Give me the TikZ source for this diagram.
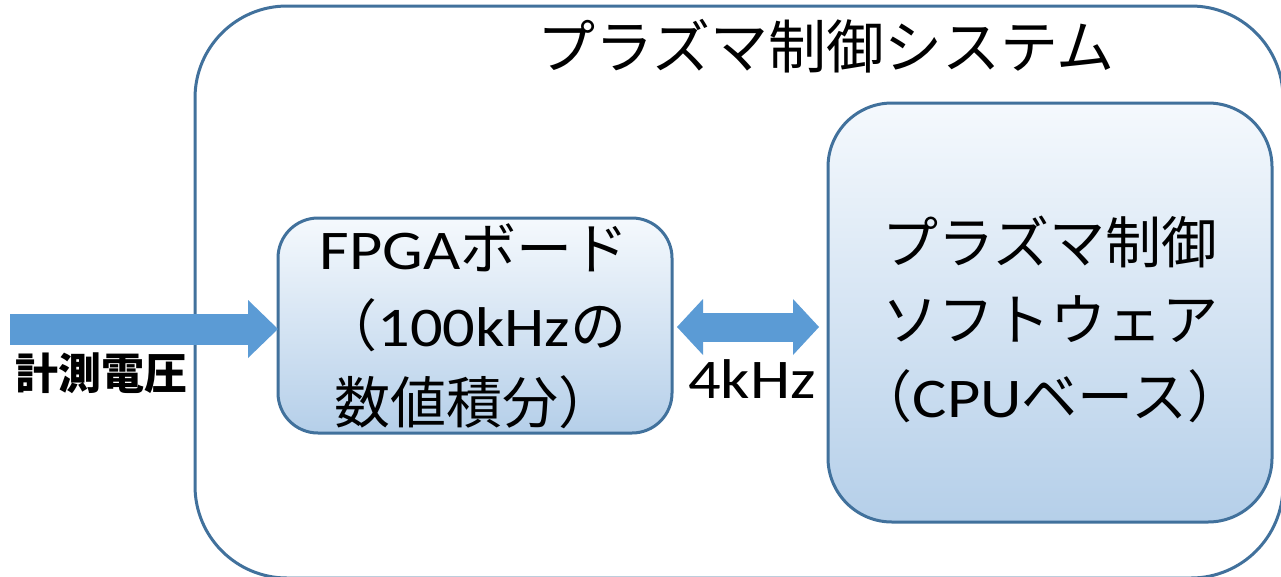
\documentclass[tikz,border=0pt]{standalone}
\usepackage{fontspec}
\newfontfamily\cjk{Noto Sans CJK JP}
\newfontfamily\latn[FakeStretch=1.15]{Carlito}
\newcommand\latx[1]{{\latn #1}}
\usetikzlibrary{arrows.meta}
\definecolor{bord}{HTML}{41719C}
\definecolor{arr}{HTML}{5B9BD5}
\definecolor{gtop}{HTML}{F5F9FD}
\definecolor{gbot}{HTML}{B5CFE9}
\tikzset{
  box/.style={draw=bord, line width=3pt, top color=gtop, bottom color=gbot, outer sep=0pt, inner sep=0pt},
  frame/.style={draw=bord, line width=3pt, outer sep=0pt, inner sep=0pt},
  txt/.style={align=center, font={\cjk\fontsize{56}{77}\selectfont}, inner sep=0pt},
  bigarrow/.style={draw=arr, line width=31pt, -{Triangle[length=30pt,width=58pt,line width=0pt]}},
  dblarrow/.style={draw=arr, line width=29pt, {Triangle[length=26pt,width=56pt,line width=0pt]}-{Triangle[length=26pt,width=56pt,line width=0pt]}},
}
\begin{document}
\begin{tikzpicture}[x=1pt,y=-1pt]
\useasboundingbox (0,0) rectangle (1281,576);
\clip (0,0) rectangle (1281,576);
\fill[white] (0,0) rectangle (1281,576);
% outer system frame
\node[frame, rounded corners=92pt, minimum width=1088pt, minimum height=572pt] (sys) at (739,292) {};
\node[txt, font={\cjk\fontsize{58}{70}\selectfont}] (title) at (826,46) {プラズマ制御システム};
% FPGA board
\node[box, rounded corners=40pt, minimum width=394pt, minimum height=215pt] (fpga) at (475,325.5) {};
\node[txt] (fpgat) at (474,326) {\latx{FPGA}ボード\\（\latx{100kHz}の\\数値積分）};
% software box
\node[box, rounded corners=64pt, minimum width=444pt, minimum height=419pt] (sw) at (1050,312.5) {};
\node[txt] (swt) at (1050,319) {プラズマ制御\\ソフトウェア\\（\latx{CPU}ベース）};
% input arrow
\coordinate (in) at (10,329);
\draw[bigarrow] (in) -- (in -| fpga.west);
\node[inner sep=0pt, font={\cjk\bfseries\fontsize{43}{50}\selectfont}] (vlab) at (101,373) {計測電圧};
% bidirectional arrow
\coordinate (a1) at ([yshift=-1.5pt]fpga.east);
\draw[dblarrow, shorten <=5pt, shorten >=9pt] (a1) -- (a1 -| sw.west);
\node[anchor=base, inner sep=0pt, font={\latn\fontsize{56}{60}\selectfont}] (freq) at (752,398) {4kHz};
\end{tikzpicture}
\end{document}
